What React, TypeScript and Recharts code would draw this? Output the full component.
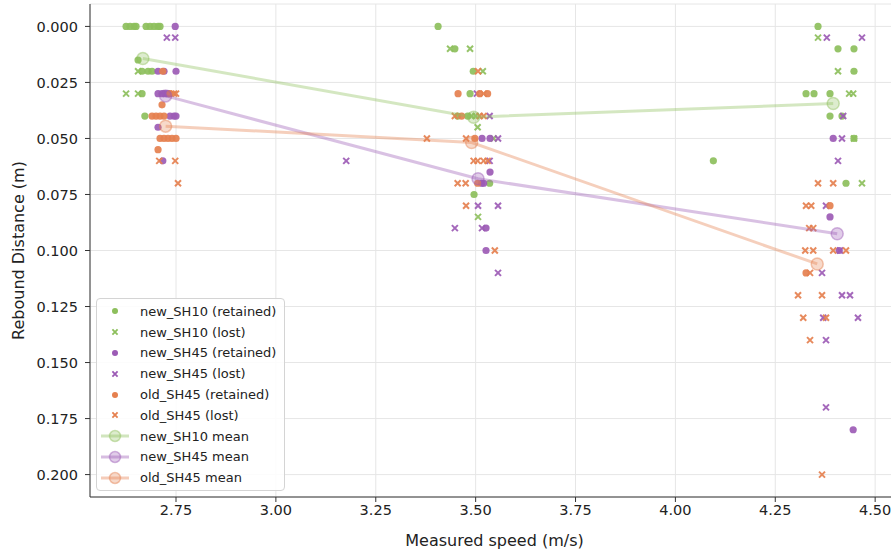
import React from "react";
import { ScatterChart, Scatter, XAxis, YAxis, CartesianGrid, Legend } from "recharts";

// [speed (m/s), rebound distance (m)]
const sh10Retained = [
  [2.625, 0], [2.635, 0], [2.645, 0], [2.65, 0], [2.675, 0], [2.685, 0], [2.695, 0], [2.705, 0], [2.71, 0],
  [2.655, 0.015], [2.665, 0.02], [2.68, 0.02], [2.69, 0.02], [2.665, 0.03], [2.672, 0.04],
  [3.406, 0], [3.448, 0.01], [3.494, 0.02], [3.486, 0.03], [3.455, 0.04], [3.48, 0.04], [3.535, 0.07], [3.496, 0.075],
  [4.357, 0], [4.407, 0.01], [4.447, 0.01], [4.447, 0.02], [4.327, 0.03], [4.347, 0.03], [4.387, 0.03],
  [4.387, 0.04], [4.417, 0.04], [4.447, 0.05], [4.427, 0.07], [4.095, 0.06],
];
const sh10Lost = [
  [2.655, 0.02], [2.625, 0.03], [2.655, 0.03],
  [3.436, 0.01], [3.486, 0.01], [3.518, 0.02], [3.49, 0.04], [3.5, 0.04], [3.505, 0.045], [3.545, 0.05], [3.506, 0.085],
  [4.357, 0.005], [4.407, 0.02], [4.435, 0.03], [4.445, 0.03], [4.447, 0.05], [4.467, 0.07],
];
const sh45Retained = [
  [2.748, 0], [2.705, 0.02], [2.72, 0.02], [2.75, 0.02], [2.705, 0.03], [2.715, 0.03], [2.722, 0.03], [2.73, 0.03],
  [2.735, 0.04], [2.745, 0.04], [2.75, 0.04], [2.705, 0.045], [2.717, 0.06],
  [3.516, 0.05], [3.536, 0.05], [3.536, 0.065], [3.515, 0.07], [3.52, 0.07], [3.526, 0.09], [3.526, 0.1],
  [4.395, 0.05], [4.387, 0.085], [4.41, 0.1], [4.445, 0.18],
];
const sh45Lost = [
  [2.727, 0.005], [2.748, 0.005],
  [3.176, 0.06], [3.503, 0.03], [3.535, 0.04], [3.556, 0.05], [3.535, 0.06], [3.506, 0.08], [3.556, 0.08],
  [3.448, 0.09], [3.516, 0.09], [3.556, 0.11],
  [4.379, 0.005], [4.467, 0.005], [4.42, 0.04], [4.417, 0.05], [4.407, 0.06], [4.377, 0.08], [4.412, 0.1],
  [4.367, 0.11], [4.417, 0.12], [4.437, 0.12], [4.37, 0.13], [4.457, 0.13], [4.377, 0.14], [4.377, 0.17],
];
const old45Retained = [
  [2.717, 0.02], [2.735, 0.03], [2.715, 0.035], [2.69, 0.04], [2.7, 0.04], [2.71, 0.04], [2.72, 0.04],
  [2.71, 0.05], [2.72, 0.05], [2.73, 0.05], [2.74, 0.05], [2.75, 0.05], [2.705, 0.055],
  [3.456, 0.03], [3.51, 0.03], [3.53, 0.03], [3.465, 0.04], [3.498, 0.05], [3.505, 0.07],
  [4.387, 0.08], [4.327, 0.11],
];
const old45Lost = [
  [2.745, 0.03], [2.75, 0.03], [2.708, 0.06], [2.748, 0.06], [2.755, 0.07],
  [3.506, 0.02], [3.52, 0.03], [3.448, 0.04], [3.51, 0.04], [3.52, 0.04], [3.378, 0.05], [3.476, 0.05],
  [3.495, 0.06], [3.505, 0.06], [3.52, 0.06], [3.53, 0.06], [3.455, 0.07], [3.475, 0.07], [3.476, 0.08], [3.548, 0.1],
  [4.357, 0.07], [4.395, 0.07], [4.327, 0.08], [4.34, 0.08], [4.335, 0.09], [4.345, 0.09], [4.325, 0.1],
  [4.345, 0.1], [4.395, 0.1], [4.427, 0.1], [4.337, 0.11], [4.307, 0.12], [4.367, 0.12], [4.32, 0.13],
  [4.377, 0.13], [4.337, 0.14], [4.367, 0.2],
];
const sh10Mean = [[2.667, 0.0143], [3.495, 0.0405], [4.395, 0.0344]];
const sh45Mean = [[2.724, 0.031], [3.506, 0.068], [4.405, 0.0925]];
const old45Mean = [[2.724, 0.0445], [3.49, 0.0518], [4.355, 0.106]];

const xTicks = [2.75, 3.0, 3.25, 3.5, 3.75, 4.0, 4.25, 4.5];
const yTicks = [0, 0.025, 0.05, 0.075, 0.1, 0.125, 0.15, 0.175, 0.2];

const GREEN = "#8dbf5c";
const PURPLE = "#9c5bb5";
const ORANGE = "#e5804f";
const FONT = "DejaVu Sans, sans-serif";

const pts = (arr: number[][]) => arr.map(([x, y]) => ({ x, y }));

const dotShape = (color: string) => (p: any) =>
  p.cx == null ? <g /> : <circle cx={p.cx} cy={p.cy} r={3.6} fill={color} fillOpacity={0.92} />;

const crossShape = (color: string) => (p: any) => {
  if (p.cx == null) return <g />;
  const s = 3;
  const { cx, cy } = p;
  return (
    <path
      d={`M${cx - s},${cy - s}L${cx + s},${cy + s}M${cx - s},${cy + s}L${cx + s},${cy - s}`}
      stroke={color}
      strokeWidth={2}
      strokeOpacity={0.92}
    />
  );
};

const meanShape = (color: string) => (p: any) =>
  p.cx == null ? <g /> : (
    <circle cx={p.cx} cy={p.cy} r={6} fill={color} fillOpacity={0.3} stroke={color} strokeOpacity={0.45} strokeWidth={1.5} />
  );

const legendItems = [
  { label: "new_SH10 (retained)", color: GREEN, kind: "dot" },
  { label: "new_SH10 (lost)", color: GREEN, kind: "cross" },
  { label: "new_SH45 (retained)", color: PURPLE, kind: "dot" },
  { label: "new_SH45 (lost)", color: PURPLE, kind: "cross" },
  { label: "old_SH45 (retained)", color: ORANGE, kind: "dot" },
  { label: "old_SH45 (lost)", color: ORANGE, kind: "cross" },
  { label: "new_SH10 mean", color: GREEN, kind: "mean" },
  { label: "new_SH45 mean", color: PURPLE, kind: "mean" },
  { label: "old_SH45 mean", color: ORANGE, kind: "mean" },
];

const LegendBox = () => (
  <div
    style={{
      width: 187,
      padding: "2px 0",
      border: "1px solid #d4d4d4",
      borderRadius: 4,
      background: "rgba(255,255,255,0.85)",
      fontFamily: FONT,
      fontSize: 13,
      color: "#222",
    }}
  >
    {legendItems.map((it) => (
      <div key={it.label} style={{ display: "flex", alignItems: "center", height: 20.8 }}>
        <svg width={43} height={20} style={{ flex: "none" }}>
          {it.kind === "dot" && <circle cx={18} cy={10} r={3} fill={it.color} />}
          {it.kind === "cross" && (
            <path d="M15.4,7.4L20.6,12.6M15.4,12.6L20.6,7.4" stroke={it.color} strokeWidth={1.8} />
          )}
          {it.kind === "mean" && (
            <g>
              <line x1={4} x2={32} y1={10} y2={10} stroke={it.color} strokeOpacity={0.4} strokeWidth={3} />
              <circle cx={18} cy={10} r={5.5} fill={it.color} fillOpacity={0.3} stroke={it.color} strokeOpacity={0.45} strokeWidth={1.5} />
            </g>
          )}
        </svg>
        <span style={{ whiteSpace: "nowrap" }}>{it.label}</span>
      </div>
    ))}
  </div>
);

const meanLine = (color: string) => ({ stroke: color, strokeWidth: 3, strokeOpacity: 0.38 });

export default function App() {
  return (
    <div style={{ position: "absolute", left: 0, top: 0, width: 891, height: 550, overflow: "hidden", background: "#fff" }}>
      <ScatterChart width={910} height={550} margin={{ top: 4, right: 11, left: 0, bottom: 0 }} style={{ fontFamily: FONT }}>
        <CartesianGrid stroke="#e6e6e6" strokeWidth={1} />
        <XAxis
          type="number"
          dataKey="x"
          domain={[2.5347, 4.5597]}
          allowDataOverflow
          ticks={xTicks}
          tickFormatter={(v: number) => v.toFixed(2)}
          height={53}
          tickSize={5}
          tickMargin={3}
          stroke="#333"
          tick={{ fill: "#222", fontSize: 14.5 }}
          label={{ value: "Measured speed (m/s)", position: "insideBottom", offset: 4, fill: "#222", fontSize: 16 }}
        />
        <YAxis
          type="number"
          dataKey="y"
          reversed
          domain={[-0.01, 0.21]}
          allowDataOverflow
          ticks={yTicks}
          tickFormatter={(v: number) => v.toFixed(3)}
          width={90}
          tickSize={5}
          tickMargin={7}
          stroke="#333"
          tick={{ fill: "#222", fontSize: 14.5 }}
          label={{
            value: "Rebound Distance (m)",
            angle: -90,
            position: "insideLeft",
            offset: 18,
            fill: "#222",
            fontSize: 16,
            style: { textAnchor: "middle" },
          }}
        />
        <Legend
          layout="vertical"
          align="center"
          verticalAlign="middle"
          content={() => <LegendBox />}
          wrapperStyle={{ position: "absolute", left: 96, top: 298, width: "auto" }}
        />
        <Scatter name="new_SH10 (retained)" data={pts(sh10Retained)} shape={dotShape(GREEN)} isAnimationActive={false} />
        <Scatter name="new_SH10 (lost)" data={pts(sh10Lost)} shape={crossShape(GREEN)} isAnimationActive={false} />
        <Scatter name="new_SH45 (retained)" data={pts(sh45Retained)} shape={dotShape(PURPLE)} isAnimationActive={false} />
        <Scatter name="new_SH45 (lost)" data={pts(sh45Lost)} shape={crossShape(PURPLE)} isAnimationActive={false} />
        <Scatter name="old_SH45 (retained)" data={pts(old45Retained)} shape={dotShape(ORANGE)} isAnimationActive={false} />
        <Scatter name="old_SH45 (lost)" data={pts(old45Lost)} shape={crossShape(ORANGE)} isAnimationActive={false} />
        <Scatter name="new_SH10 mean" data={pts(sh10Mean)} line={meanLine(GREEN)} shape={meanShape(GREEN)} isAnimationActive={false} />
        <Scatter name="new_SH45 mean" data={pts(sh45Mean)} line={meanLine(PURPLE)} shape={meanShape(PURPLE)} isAnimationActive={false} />
        <Scatter name="old_SH45 mean" data={pts(old45Mean)} line={meanLine(ORANGE)} shape={meanShape(ORANGE)} isAnimationActive={false} />
      </ScatterChart>
    </div>
  );
}
